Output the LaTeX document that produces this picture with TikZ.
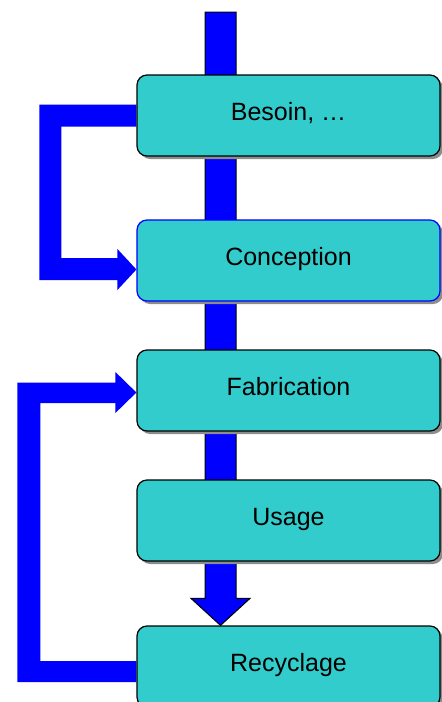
\documentclass[tikz,border=0pt]{standalone}
\usepackage{fontspec}
\setmainfont{Liberation Sans}
\usetikzlibrary{calc,shadows,backgrounds}

\definecolor{boxteal}{HTML}{33CCCC}
\definecolor{flowblue}{HTML}{0000FF}

\tikzset{
  stage/.style={draw=black, line width=0.6pt, fill=boxteal, rounded corners=5pt,
    minimum width=151.5pt, minimum height=40.5pt,
    text height=8.5pt, text depth=3.5pt,
    font=\fontsize{12.5}{15}\selectfont,
    drop shadow={shadow xshift=1.5pt, shadow yshift=-1.5pt, fill=black!45, opacity=1}},
  mainbar/.style={fill=flowblue, draw=black, line width=0.5pt},
  loopbar/.style={fill=flowblue, draw=none}
}

\begin{document}
\begin{tikzpicture}[x=0.5pt, y=-0.5pt]
  \clip (0,0) rectangle (442,702);

  % etapes
  \node[stage] (besoin) at (288.5,115.5) {Besoin, …};
  \node[stage, draw=flowblue] (conception) at (288.5,260.5) {Conception};
  \node[stage] (fabrication) at (288.5,390.5) {Fabrication};
  \node[stage] (usage) at (288.5,520.5) {Usage};
  \node[stage] (recyclage) at (288.5,666.5) {Recyclage};

  \coordinate (top) at (220.5,12);
  \coordinate (tip) at (top |- recyclage.north);

  \begin{scope}[on background layer]
    % fleche principale
    \filldraw[mainbar] ($(top)+(-15.5,0)$) -- ($(top)+(15.5,0)$)
      -- ($(tip)+(15.5,-27)$) -- ($(tip)+(29.5,-27)$) -- (tip)
      -- ($(tip)+(-29.5,-27)$) -- ($(tip)+(-15.5,-27)$) -- cycle;
    % retour besoin -> conception
    \fill[loopbar] ($(besoin.west)+(0,-11)$) -- ++(-97,0) -- ++(0,175.5)
      -- ++(78,0) -- ++(0,10) -- ($(conception.west)+(0,9)$)
      -- ++(-19,-20.5) -- ++(0,9) -- ++(-56,0) -- ++(0,-131.5)
      -- ($(besoin.west)+(0,11)$) -- cycle;
    % retour recyclage -> fabrication
    \fill[loopbar] ($(recyclage.west)+(0,15.5)$) -- ++(-119,0) -- ++(0,-299.5)
      -- ++(98,0) -- ++(0,-10.5) -- ($(fabrication.west)+(0,2)$)
      -- ++(-21,20.5) -- ++(0,-10) -- ++(-75,0) -- ++(0,258)
      -- ($(recyclage.west)+(0,-5.5)$) -- cycle;
  \end{scope}
\end{tikzpicture}
\end{document}
